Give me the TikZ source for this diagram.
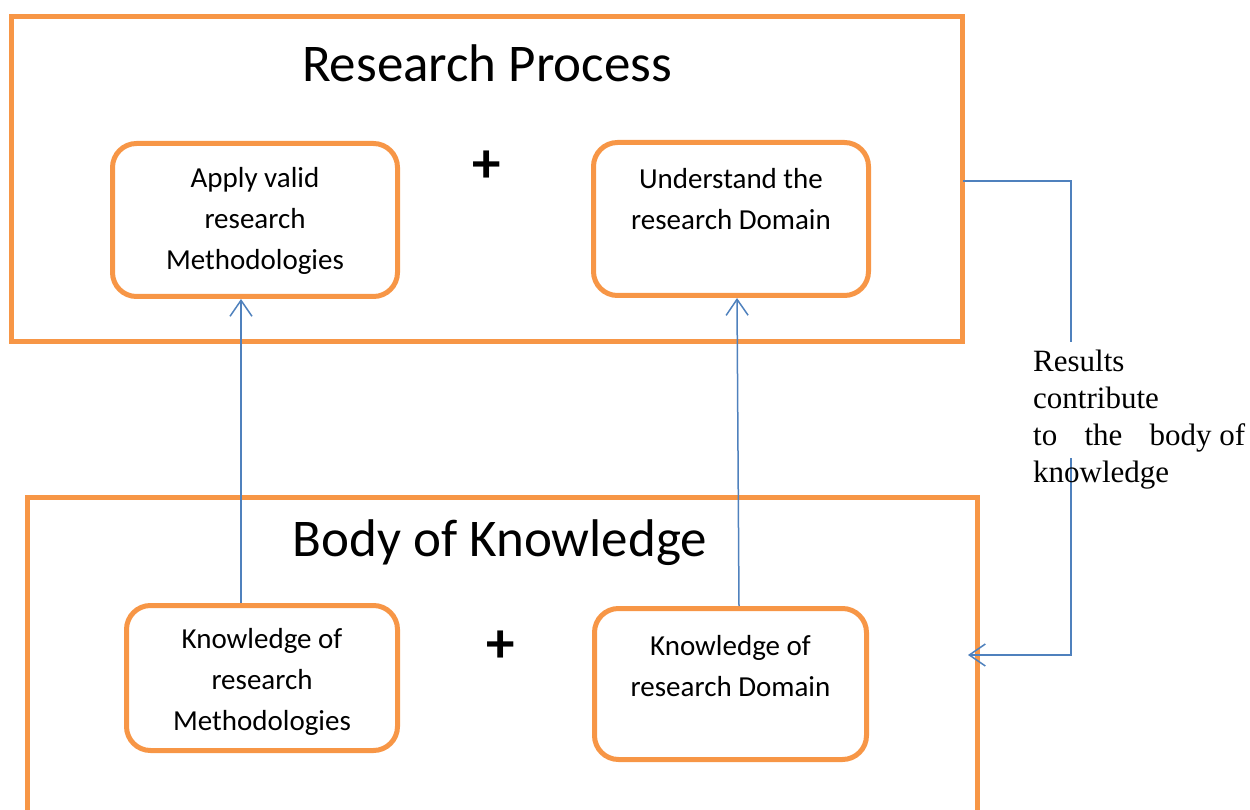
\documentclass[tikz,border=0pt]{standalone}
\usepackage{fontspec}
\setmainfont{Carlito}
\newfontfamily\timesfont{Liberation Serif}
\usetikzlibrary{arrows.meta}
\definecolor{frameorange}{HTML}{F79646}
\definecolor{linkblue}{HTML}{4F81BD}
\begin{document}
\begin{tikzpicture}[x=1pt,y=-1pt,
  panel/.style={draw=frameorange,line width=5pt},
  card/.style={draw=frameorange,line width=5pt,rounded corners=24pt,
    rectangle,inner sep=0pt},
  cardtext/.style={align=center,inner sep=0pt,
    font=\fontsize{29}{41}\selectfont},
  heading/.style={inner sep=0pt,font=\fontsize{53}{60}\selectfont},
  plus/.style={inner sep=0pt,font=\bfseries\fontsize{57}{62}\selectfont},
  link/.style={draw=linkblue,line width=1.5pt},
  tip/.style={-{Straight Barb[length=16pt,width=22pt,line width=1.5pt]}}]
\useasboundingbox (0,0) rectangle (1250,810);

% Research process panel
\node[panel,rectangle,inner sep=0pt,minimum width=951pt,minimum height=324pt]
  (process) at (486.5,179) {};
\node[heading] (processtitle) at (487,63) {Research Process};

\node[card,minimum width=285pt,minimum height=153pt] (apply) at (255,220) {};
\node[cardtext] (applytext) at (255,221) {Apply valid\\research\\Methodologies};
\node[plus] (plustop) at (486.5,166.5) {+};
\node[card,minimum width=275pt,minimum height=153pt] (understand) at (731,219) {};
\node[cardtext] (understandtext) at (731,199) {Understand the\\research Domain};

% Body of knowledge panel, open at the bottom
\draw[panel] (27,815) -- (27,497) -- (977,497) -- (977,815);
\coordinate (bodyeast) at (968,655);
\node[heading] (bodytitle) at (500,543) {Body of Knowledge};

\node[card,minimum width=271pt,minimum height=145pt] (knowmeth) at (262,678) {};
\node[cardtext] (knowmethtext) at (262,682) {Knowledge of\\research\\Methodologies};
\node[plus] (plusbottom) at (501,646.5) {+};
\node[card,minimum width=272pt,minimum height=151pt] (knowdom) at (730.5,684) {};
\node[cardtext] (knowdomtext) at (730.5,666) {Knowledge of\\research Domain};

% Knowledge feeds the research process
\draw[link,tip] (knowmeth.north -| 241,0) -- (apply.south -| 241,0);
\draw[link,tip] (knowdom.north -| 739,0) -- (understand.south -| 737,0);

% Results feed back into the body of knowledge
\coordinate (loopout) at (963,181);
\coordinate (loopstop) at (1071,342);
\coordinate (loopresume) at (1071,458);
\draw[link] (loopout) -- (1071,181) -- (loopstop);
\draw[link,tip] (loopresume) -- (1071,655) -- (bodyeast);

\node[anchor=north west,inner sep=0pt,align=left,
  font=\timesfont\fontsize{31}{37}\selectfont] (results) at (1033,350)
  {Results\\contribute\\\makebox[212pt][s]{to\hfill the\hfill body of}\\knowledge};
\end{tikzpicture}
\end{document}
